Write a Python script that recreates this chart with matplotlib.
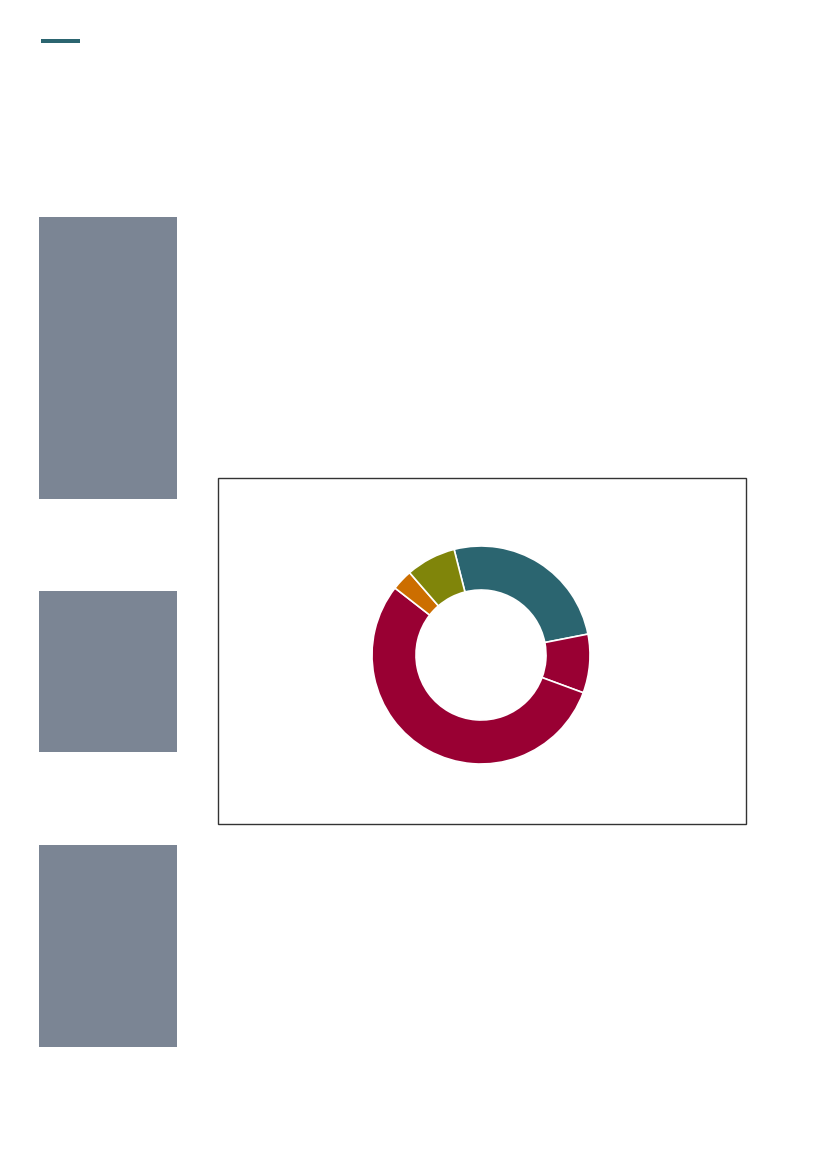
import matplotlib
matplotlib.use("Agg")
import matplotlib.pyplot as plt
from matplotlib.patches import Rectangle

# ── Data (clockwise from the teal wedge) ────────────────────────────────
labels = ["Teal", "Red small", "Red large", "Orange", "Olive"]
shares = [25.9, 8.7, 54.9, 3.1, 7.4]
colors = ["#2b6570", "#990033", "#990033", "#cc6e00", "#80850a"]

# ── Page geometry (pixels) ──────────────────────────────────────────────
W, H = 827, 1169
GREY = "#7b8594"
grey_blocks = [(39, 217, 138, 282), (39, 591, 138, 161), (39, 845, 138, 202)]
DONUT_CX, DONUT_CY, DONUT_R = 481, 655, 109
HOLE_R = 65

fig = plt.figure(figsize=(W / 100, H / 100), dpi=100)
fig.patch.set_facecolor("white")

# page decorations drawn in a full-size pixel axes
bg = fig.add_axes([0, 0, 1, 1])
bg.set_xlim(0, W)
bg.set_ylim(H, 0)
bg.axis("off")

bg.add_patch(Rectangle((41, 39), 39, 4, color="#2b6570", lw=0))
for x, y, w, h in grey_blocks:
    bg.add_patch(Rectangle((x, y), w, h, color=GREY, lw=0))
bg.add_patch(Rectangle((218, 478), 528, 346, fill=False,
                       edgecolor="#333333", lw=1.0))

# ── Donut ───────────────────────────────────────────────────────────────
lim = 1.1
side = 2 * DONUT_R * lim
ax = fig.add_axes([(DONUT_CX - side / 2) / W,
                   (H - DONUT_CY - side / 2) / H,
                   side / W, side / H])
ax.pie(shares, colors=colors, startangle=104.3, counterclock=False,
       radius=1.0,
       wedgeprops=dict(width=1 - HOLE_R / DONUT_R, edgecolor="white",
                       linewidth=1.2))
ax.set_xlim(-lim, lim)
ax.set_ylim(-lim, lim)
ax.set_aspect("equal")
ax.axis("off")

fig.savefig("out.png", dpi=100, facecolor="white")
